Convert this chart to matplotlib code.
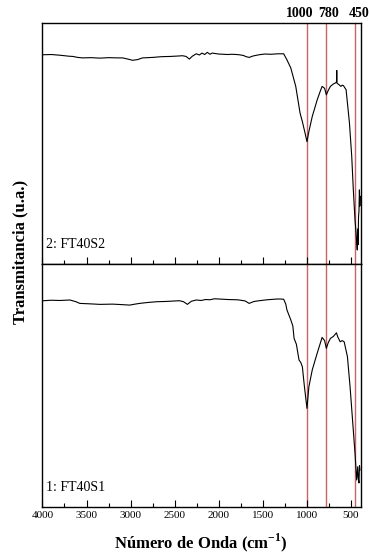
import matplotlib
matplotlib.use('Agg')
import matplotlib.pyplot as plt
from matplotlib.ticker import MultipleLocator

# DATA -----------------------------------------------------------------------------------------------------------------
# FT40S2 (upper panel): wavenumber (cm-1) and transmittance (a.u.)
wn_s2 = [3990, 3900, 3800, 3700, 3655, 3600, 3542, 3450, 3350, 3250, 3150, 3090, 3030, 2977, 2920, 2864,
         2750, 2650, 2550, 2450, 2413, 2370, 2334, 2300, 2255, 2220, 2190, 2160, 2130, 2100, 2074, 2040,
         2000, 1950, 1900, 1850, 1800, 1769, 1720, 1690, 1656, 1610, 1543, 1480, 1407, 1330, 1300, 1264,
         1227, 1183, 1127, 1078, 1052, 1020, 1000, 978, 940, 884, 850, 828, 800, 780, 760, 734, 700, 678,
         665, 662, 659, 640, 615, 600, 586, 556, 518, 492, 474, 455, 443, 436, 429, 425, 420, 415, 410,
         405, 400, 395]
tr_s2 = [86.7, 86.8, 86.5, 86.1, 86.0, 85.6, 85.4, 85.5, 85.3, 85.5, 85.4, 85.4, 84.9, 84.4, 84.7, 85.4,
         85.6, 85.9, 86.0, 86.2, 86.3, 86.0, 84.9, 86.1, 87.1, 86.6, 87.4, 86.8, 87.7, 86.9, 87.4, 87.2,
         87.0, 86.9, 86.8, 86.9, 86.8, 86.7, 86.4, 85.9, 85.6, 86.2, 86.7, 87.0, 86.9, 87.1, 87.1, 87.1,
         84.6, 81.2, 73.6, 62.5, 59.0, 54.0, 50.7, 54.9, 61.1, 68.0, 71.5, 73.6, 72.8, 70.1, 71.8, 73.6,
         74.6, 75.0, 75.4, 80.2, 74.9, 74.4, 73.6, 74.1, 73.9, 72.2, 58.4, 44.5, 30.7, 18.3, 12.7, 9.0,
         5.8, 14.5, 8.0, 19.6, 22.0, 30.7, 24.0, 28.0]

# FT40S1 (lower panel)
wn_s1 = [3990, 3900, 3800, 3688, 3620, 3576, 3450, 3350, 3203, 3100, 3011, 2950, 2898, 2800, 2700, 2600,
         2500, 2446, 2400, 2356, 2310, 2254, 2200, 2150, 2100, 2050, 1995, 1900, 1800, 1769, 1700, 1656,
         1600, 1543, 1450, 1339, 1300, 1264, 1240, 1227, 1183, 1160, 1146, 1120, 1090, 1070, 1052, 1030,
         1000, 978, 940, 884, 828, 800, 780, 760, 734, 700, 666, 650, 623, 600, 578, 541, 511, 480, 455,
         436, 424, 418, 410, 404, 399]
tr_s1 = [84.9, 85.1, 85.0, 85.2, 84.5, 83.8, 83.6, 83.4, 83.5, 83.3, 83.1, 83.5, 83.8, 84.2, 84.5, 84.6,
         84.8, 84.9, 84.5, 83.4, 84.7, 85.2, 85.0, 85.4, 85.3, 85.7, 85.6, 85.4, 85.3, 85.2, 84.8, 83.8,
         84.6, 84.9, 85.3, 85.6, 85.6, 85.5, 83.5, 81.1, 77.0, 74.5, 69.4, 67.0, 60.5, 59.5, 57.7, 50.0,
         40.6, 49.5, 56.4, 63.3, 69.8, 68.5, 65.3, 67.5, 69.4, 70.2, 71.7, 70.0, 68.0, 68.5, 68.0, 61.9,
         49.5, 34.4, 22.1, 11.1, 16.6, 12.0, 9.9, 17.0, 15.2]

band_positions = [1000, 780, 450]
band_labels = ['1000', '780', '450']
panel_labels = ['2: FT40S2', '1: FT40S1']

# FIGURE ---------------------------------------------------------------------------------------------------------------
plt.rcParams['font.family'] = ['Liberation Serif', 'DejaVu Serif']
plt.rcParams['mathtext.fontset'] = 'custom'
plt.rcParams['mathtext.rm'] = 'Liberation Serif'
plt.rcParams['mathtext.bf'] = 'Liberation Serif:bold'

fig = plt.figure(figsize=(3.69, 5.54), dpi=100)
ax_top = fig.add_axes([0.115, 0.5235, 0.8626, 0.4356])
ax_bot = fig.add_axes([0.115, 0.0848, 0.8626, 0.4386])

red = '#c96464'

for ax, wn, tr, lab in zip([ax_top, ax_bot], [wn_s2, wn_s1], [tr_s2, tr_s1], panel_labels):
    ax.plot(wn, tr, color='black', linewidth=0.8)
    for pos in band_positions:
        ax.axvline(pos, color=red, linewidth=1.0, zorder=0)
    ax.set_xlim(4000, 390)
    ax.set_ylim(0, 100)
    ax.set_yticks([])
    ax.xaxis.set_major_locator(MultipleLocator(500))
    ax.xaxis.set_minor_locator(MultipleLocator(250))
    ax.tick_params(axis='x', which='major', direction='in', length=5, width=0.8, top=False,
                   labelsize=8, pad=3)
    ax.tick_params(axis='x', which='minor', direction='in', length=3, width=0.8, top=False)
    for sp in ax.spines.values():
        sp.set_linewidth(1.0)
    ax.text(0.01, 0.08, lab, transform=ax.transAxes, fontsize=10, va='center', ha='left')

ax_top.tick_params(axis='x', labelbottom=False)

# band labels above the top panel
offsets = [-5, 1.5, 2.5]
for pos, lab, dx in zip(band_positions, band_labels, offsets):
    ax_top.annotate(lab, xy=(pos, 1), xycoords=('data', 'axes fraction'),
                    xytext=(dx, 2), textcoords='offset points',
                    ha='center', va='bottom', fontsize=10, fontweight='bold', annotation_clip=False)

fig.text(0.5437, 0.0199, 'Número de Onda (cm$^{\\mathbf{-1}}$)', ha='center', va='center',
         fontsize=12, fontweight='bold')
fig.text(0.056, 1 - 252 / 554, 'Transmitancia (u.a.)', rotation=90, ha='center', va='center',
         fontsize=12, fontweight='bold')

plt.savefig('out.png', dpi=100)
